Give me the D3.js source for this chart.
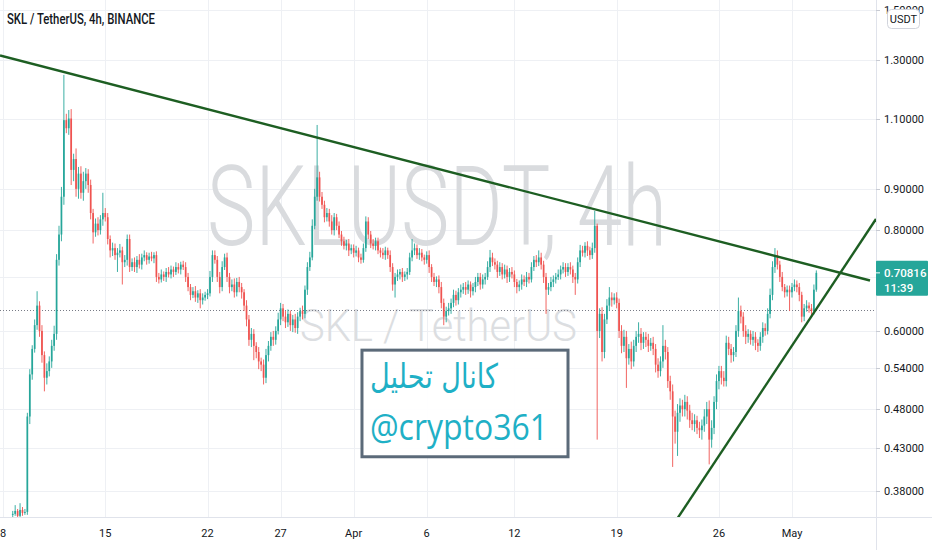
<!DOCTYPE html>
<html><head><meta charset="utf-8">
<script src="https://cdn.jsdelivr.net/npm/d3@7"></script>
<style>html,body{margin:0;padding:0;background:#fff;overflow:hidden}</style>
</head><body>
<svg id="c" width="932" height="550"></svg>
<script>
// ---------- DATA ----------
const title = "SKL / TetherUS, 4h, BINANCE";
const firstCandle = Date.UTC(2021, 2, 8, 16); // open time of first candle
const candleHours = 4;
const firstOpen = 0.355;
// closes, in thousandths of USDT
const closes = [
356,359,354,360,357,358,470,530,570,610,
645,600,560,525,535,550,575,595,735,790,
880,1095,1070,1100,950,980,900,940,890,920,
940,910,840,795,815,800,825,840,830,780,
755,760,745,750,755,730,735,780,720,730,
720,735,725,740,745,735,742,738,745,700,
695,705,700,710,705,715,710,720,715,725,
720,700,680,665,672,660,668,655,660,665,
668,700,745,735,700,680,720,740,700,680,
685,670,690,680,670,645,620,585,595,575,
565,550,545,525,560,575,590,585,600,620,
640,625,615,630,610,620,605,625,635,630,
675,720,740,810,880,930,880,860,830,840,
820,800,830,810,790,775,765,770,755,760,
750,755,740,735,760,820,790,770,765,775,
755,750,745,755,745,720,685,700,705,710,
700,705,710,740,755,760,745,750,740,735,
745,720,700,690,695,680,650,625,635,640,
650,665,655,670,675,680,675,685,672,680,
690,700,685,695,700,720,740,730,725,710,
720,705,715,700,710,705,690,680,685,695,
690,700,695,720,735,730,740,725,700,675,
680,690,695,700,705,715,720,710,720,715,
700,695,730,755,750,765,755,745,760,810,
600,630,565,620,645,660,655,660,650,600,
575,590,555,570,550,575,590,595,580,590,
585,575,580,570,545,535,550,575,565,520,
505,470,450,475,485,480,490,478,465,460,
465,455,452,458,470,480,440,455,490,520,
535,525,520,580,570,560,565,600,635,625,
600,590,595,585,590,580,575,590,605,600,
630,665,720,745,725,700,680,670,675,670,
680,685,680,665,625,640,645,640,635,675,
708.16
];
// upper wick above body top, in thousandths
const upWicks = [
3,6,2,7,3,3,5,8,6,10, 27,8,10,6,12,8,10,14,12,20,
25,151,20,27,30,15,30,18,20,25, 15,12,14,10,12,15,10,50,12,10,
8,12,10,10,14,8,10,10,10,8, 10,8,12,8,10,6,8,10,6,8,
8,10,6,8,10,8,6,10,8,6, 8,10,8,6,8,10,6,8,8,6,
8,12,10,10,8,10,12,8,10,8, 10,12,8,10,8,6,10,8,10,8,
6,8,6,8,10,8,8,10,8,12, 10,8,10,8,6,8,10,8,6,10,
8,10,12,15,20,150,15,12,10,12, 10,15,10,8,10,8,10,8,10,8,
8,10,6,8,10,12,10,8,10,8, 8,6,10,8,6,10,8,8,10,6,
8,6,8,10,25,10,8,10,8,6, 8,10,6,8,6,8,10,8,8,10,
8,10,8,8,10,8,10,8,6,8, 10,8,8,10,8,12,16,10,8,8,
10,8,10,8,8,10,8,6,8,10, 8,10,8,10,8,10,15,10,8,8,
8,10,8,8,10,8,10,8,8,10, 8,8,10,12,10,8,10,8,12,35,
5,10,12,10,12,20,10,8,10,8, 10,12,10,8,12,10,10,20,10,8,
8,10,8,10,8,10,8,35,10,8, 8,10,8,12,10,8,10,8,8,10,
8,6,8,8,10,10,12,10,8,10, 8,8,10,12,10,8,8,10,25,10,
8,10,8,6,10,8,6,8,10,8, 10,12,12,15,10,8,10,6,8,8,
8,10,8,8,6,8,10,6,8,10,5
];
// lower wick below body bottom, in thousandths
const downWicks = [
3,2,4,2,3,2,3,10,8,6, 8,10,12,20,10,8,10,8,10,12,
15,20,15,20,40,30,20,25,15,20, 20,20,15,25,10,12,10,15,10,12,
15,12,10,35,10,45,10,12,10,8, 10,12,8,10,8,10,8,6,10,10,
8,6,8,10,6,8,10,6,8,10, 6,10,8,10,6,8,10,15,8,6,
8,6,10,8,10,12,8,6,10,12, 8,10,8,10,12,10,12,10,12,23,
10,12,10,10,8,10,8,10,8,6, 10,8,10,8,10,12,8,10,8,10,
8,10,8,6,8,10,12,10,12,10, 12,10,12,10,8,10,8,10,12,8,
10,8,10,8,6,8,10,10,8,10, 8,10,8,10,8,10,12,25,8,10,
10,8,10,6,8,10,8,10,8,10, 8,12,10,8,10,12,10,15,10,8,
10,8,10,8,10,8,10,8,12,8, 10,8,10,8,10,6,10,8,10,12,
8,10,8,12,10,8,10,12,8,10, 8,10,8,6,8,10,8,10,12,45,
10,8,10,8,6,10,8,10,8,10, 12,30,8,10,8,10,12,10,8,10,
160,12,15,10,8,10,12,8,10,12, 12,10,45,10,12,8,10,10,12,10,
12,10,8,10,12,10,8,10,12,10, 12,63,15,30,12,10,10,12,10,8,
10,8,10,12,8,10,30,10,8,10, 12,10,8,8,10,12,10,8,10,12,
10,12,10,8,10,12,10,8,10,8, 6,8,10,12,10,10,8,10,8,35,
10,8,10,12,10,8,6,8,10,6,4
];
const priceTicks = [1.5, 1.3, 1.1, 0.9, 0.8, 0.7, 0.6, 0.54, 0.48, 0.43, 0.38];
const dateTicks = ["2021-03-08","2021-03-15","2021-03-22","2021-03-27","2021-04-01","2021-04-06","2021-04-12","2021-04-19","2021-04-26","2021-05-01"];
const dateLabels = ["8","15","22","27","Apr","6","12","19","26","May"];
const lastPrice = 0.70816;
const countdown = "11:39";
const prevClose = 0.637;
const currency = "USDT";
// trend lines: [time, price] end points
const resistanceLine = [["2021-03-07T19:04Z", 1.3168], ["2021-05-06T08:10Z", 0.6929]];
const supportLine = [["2021-04-23T03:10Z", 0.3508], ["2021-05-06T18:00Z", 0.8258]];
const watermark = "SKLUSDT, 4h";
const watermarkSub = "SKL / TetherUS";
const noteLine1 = "كانال تحليل";
const noteLine2 = "@crypto361";
// note box corners: [time, price]
const noteBox = [["2021-04-01T13:40Z", 0.568], ["2021-04-15T16:05Z", 0.419]];

// ---------- CHART ----------
const W = 932, H = 550, plotR = 876, plotB = 517;
const svg = d3.select("#c");
const x = d3.scaleUtc()
  .domain([new Date("2021-03-07T19:04Z"), new Date("2021-05-06T18:00Z")])
  .range([0, plotR]);
const y = d3.scaleLog().domain([0.38, 1.3]).range([491, 60]);
const up = "#26a69a", dn = "#ef5350";

svg.append("rect").attr("width", W).attr("height", H).attr("fill", "#fff");
svg.append("defs").append("clipPath").attr("id", "pc")
  .append("rect").attr("x", 0).attr("y", 0).attr("width", plotR).attr("height", plotB);

const plot = svg.append("g").attr("clip-path", "url(#pc)");
// grid
plot.append("g").selectAll("line").data(priceTicks).join("line")
  .attr("x1", 0).attr("x2", plotR)
  .attr("y1", d => Math.round(y(d)) + 0.5).attr("y2", d => Math.round(y(d)) + 0.5)
  .attr("stroke", "#eef0f4");
plot.append("g").selectAll("line").data(dateTicks).join("line")
  .attr("x1", d => Math.round(x(new Date(d + "T00:00Z"))) + 0.5)
  .attr("x2", d => Math.round(x(new Date(d + "T00:00Z"))) + 0.5)
  .attr("y1", 0).attr("y2", plotB)
  .attr("stroke", "#eef0f4");

// watermarks
plot.append("text").text(watermark)
  .attr("x", 207).attr("y", 245)
  .attr("textLength", 460).attr("lengthAdjust", "spacingAndGlyphs")
  .attr("font-family", "Roboto, sans-serif").attr("font-size", 112).attr("font-weight", 300)
  .attr("fill", "#d9dbde");
plot.append("text").text(watermarkSub)
  .attr("x", 300).attr("y", 341)
  .attr("textLength", 277).attr("lengthAdjust", "spacingAndGlyphs")
  .attr("font-family", "Roboto, sans-serif").attr("font-size", 44).attr("font-weight", 300)
  .attr("fill", "#dcdee1");

// previous close dotted line
plot.append("line")
  .attr("x1", 0).attr("x2", plotR)
  .attr("y1", Math.round(y(prevClose)) + 0.5).attr("y2", Math.round(y(prevClose)) + 0.5)
  .attr("stroke", "#787b86").attr("stroke-dasharray", "1,2");

// candles
const candles = closes.map((c, i) => {
  const o = i === 0 ? firstOpen : closes[i - 1] / 1000;
  const cl = c / 1000;
  return {
    t: new Date(firstCandle + i * candleHours * 3600e3),
    o, c: cl,
    h: Math.max(o, cl) + upWicks[i] / 1000,
    l: Math.min(o, cl) - downWicks[i] / 1000
  };
});
const cg = plot.append("g");
cg.selectAll("line").data(candles).join("line")
  .attr("x1", d => x(d.t)).attr("x2", d => x(d.t))
  .attr("y1", d => y(d.h)).attr("y2", d => y(d.l))
  .attr("stroke", d => d.c >= d.o ? up : dn).attr("stroke-width", 0.9);
cg.selectAll("rect").data(candles).join("rect")
  .attr("x", d => x(d.t) - 0.85).attr("width", 1.7)
  .attr("y", d => y(Math.max(d.o, d.c)))
  .attr("height", d => Math.max(1, Math.abs(y(d.o) - y(d.c))))
  .attr("fill", d => d.c >= d.o ? up : dn);

// trend lines
const tl = d3.line().x(d => x(new Date(d[0]))).y(d => y(d[1]));
[resistanceLine, supportLine].forEach(L => {
  plot.append("path").attr("d", tl(L)).attr("fill", "none")
    .attr("stroke", "#1d5e22").attr("stroke-width", 2.4);
});

// note box
const bx0 = x(new Date(noteBox[0][0])), by0 = y(noteBox[0][1]);
const bx1 = x(new Date(noteBox[1][0])), by1 = y(noteBox[1][1]);
plot.append("rect").attr("x", bx0).attr("y", by0)
  .attr("width", bx1 - bx0).attr("height", by1 - by0)
  .attr("fill", "rgba(255,255,255,0.92)").attr("stroke", "#5b6a79").attr("stroke-width", 3);
plot.append("text").text(noteLine1)
  .attr("x", bx0 + 8).attr("y", by0 + 38)
  .attr("textLength", 128).attr("lengthAdjust", "spacingAndGlyphs")
  .attr("font-family", "'DejaVu Sans', sans-serif").attr("font-size", 34)
  .attr("fill", "#1fb0c6");
plot.append("text").text(noteLine2)
  .attr("x", bx0 + 8).attr("y", by0 + 90)
  .attr("textLength", 178).attr("lengthAdjust", "spacingAndGlyphs")
  .attr("font-family", "'Open Sans', sans-serif").attr("font-size", 36)
  .attr("fill", "#1fb0c6");

// separators
svg.append("line").attr("x1", plotR + 0.5).attr("x2", plotR + 0.5).attr("y1", 0).attr("y2", H)
  .attr("stroke", "#e0e3eb");
svg.append("line").attr("x1", 0).attr("x2", W).attr("y1", plotB + 0.5).attr("y2", plotB + 0.5)
  .attr("stroke", "#e0e3eb");

// price axis
const ly = y(lastPrice);
const pa = svg.append("g");
pa.selectAll("line").data(priceTicks).join("line")
  .attr("x1", plotR).attr("x2", plotR + 4)
  .attr("y1", d => Math.round(y(d)) + 0.5).attr("y2", d => Math.round(y(d)) + 0.5)
  .attr("stroke", "#c8cbd3");
// labels hidden under the last-price label are not drawn
pa.selectAll("text").data(priceTicks.filter(d => Math.abs(y(d) - ly) > 22)).join("text")
  .text(d => d.toFixed(5))
  .attr("x", 884).attr("y", d => y(d) + 4)
  .attr("font-family", "Roboto, sans-serif").attr("font-size", 11)
  .attr("fill", "#131722");

// currency badge
svg.append("rect").attr("x", 887.5).attr("y", 9.5).attr("width", 32).attr("height", 19).attr("rx", 4)
  .attr("fill", "#fff").attr("stroke", "#d1d4dc");
svg.append("text").text(currency).attr("x", 903.5).attr("y", 23).attr("text-anchor", "middle")
  .attr("font-family", "Roboto, sans-serif").attr("font-size", 11).attr("fill", "#131722");

// last price label
svg.append("rect").attr("x", plotR).attr("y", ly - 12).attr("width", 52).attr("height", 35)
  .attr("fill", up).attr("rx", 1);
svg.append("line").attr("x1", plotR).attr("x2", plotR + 4).attr("y1", ly).attr("y2", ly)
  .attr("stroke", "#fff");
svg.append("text").text(lastPrice.toFixed(5)).attr("x", 884).attr("y", ly + 4)
  .attr("font-family", "Roboto, sans-serif").attr("font-size", 11.5).attr("font-weight", 500)
  .attr("fill", "#fff");
svg.append("text").text(countdown).attr("x", 884).attr("y", ly + 19)
  .attr("font-family", "Roboto, sans-serif").attr("font-size", 11.5).attr("font-weight", 500)
  .attr("fill", "#fff");

// time axis
const ta = svg.append("g");
ta.selectAll("text").data(dateTicks).join("text")
  .text((d, i) => dateLabels[i])
  .attr("x", d => x(new Date(d + "T00:00Z"))).attr("y", 537)
  .attr("text-anchor", "middle")
  .attr("font-family", "Roboto, sans-serif").attr("font-size", 11)
  .attr("fill", "#131722");

// title
svg.append("text").text(title).attr("x", 7).attr("y", 24)
  .attr("textLength", 148).attr("lengthAdjust", "spacingAndGlyphs")
  .attr("font-family", "Roboto, sans-serif").attr("font-size", 14).attr("font-weight", 500)
  .attr("fill", "#131722");
</script>
</body></html>
